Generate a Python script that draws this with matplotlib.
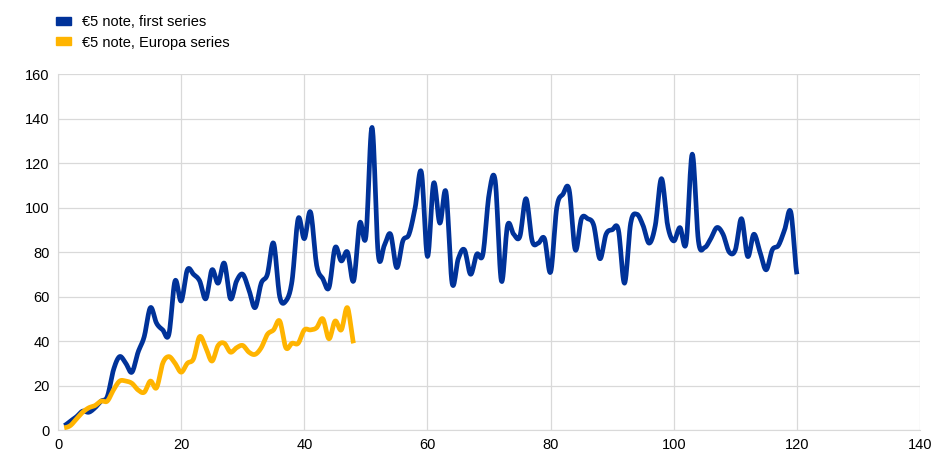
import numpy as np
import matplotlib.pyplot as plt
from matplotlib.patches import Patch

plt.rcParams['font.family'] = ['Liberation Sans', 'DejaVu Sans']

first_series = [2, 4, 6, 8.5, 8, 10, 13, 15, 27, 33,
                30, 26, 35, 42, 55, 48, 45, 43, 67, 58,
                72, 70, 67, 59, 72, 66, 75, 59, 67, 70,
                63, 55, 66, 70, 84, 60, 58, 67, 95, 86,
                98, 74, 68, 64, 82, 76, 80, 67, 93, 87,
                136, 79, 83, 88, 73, 85, 88, 100, 116, 78,
                111, 93, 107, 66, 77, 81, 70, 79, 79, 106,
                112, 67, 92, 88, 87, 104, 85, 84, 86, 71,
                100, 106, 108, 81, 95, 95, 92, 77, 88, 90,
                90, 66, 93, 97, 92, 84, 92, 113, 92, 85,
                91, 84, 124, 85, 82, 86, 91, 88, 80, 81,
                95, 78, 88, 80, 72, 81, 83, 90, 98, 70]
europa_series = [1, 2, 5, 8, 10, 11, 13, 13, 18, 22,
                 22, 21, 18, 17, 22, 19, 30, 33, 30, 26,
                 30, 32, 42, 37, 31, 38, 39, 35, 37, 38,
                 35, 34, 37, 43, 45, 49, 37, 39, 39, 45,
                 45, 46, 50, 41, 49, 45, 55, 39]
labels = ['€5 note, first series', '€5 note, Europa series']
colors = ['#003299', '#FFB400']


def smooth(y, n=12):
    # Catmull-Rom style smoothing like the "smoothed line" option
    y = np.asarray(y, dtype=float)
    x = np.arange(1, len(y) + 1, dtype=float)
    p = np.concatenate([[y[0]], y, [y[-1]]])
    xs, ys = [], []
    for i in range(len(y) - 1):
        p0, p1, p2, p3 = p[i], p[i + 1], p[i + 2], p[i + 3]
        t = np.linspace(0, 1, n, endpoint=False)
        c = 0.5 * ((2 * p1) + (-p0 + p2) * t + (2 * p0 - 5 * p1 + 4 * p2 - p3) * t ** 2
                   + (-p0 + 3 * p1 - 3 * p2 + p3) * t ** 3)
        xs.extend(x[i] + t)
        ys.extend(c)
    xs.append(x[-1])
    ys.append(y[-1])
    return np.array(xs), np.array(ys)


fig = plt.figure(figsize=(9.36, 4.57), dpi=100)
ax = fig.add_axes([0.062, 0.059, 0.921, 0.779])

for data, col in zip([first_series, europa_series], colors):
    xs, ys = smooth(data)
    ax.plot(xs, ys, color=col, lw=3.4, solid_capstyle='butt', zorder=3)

ax.set_xlim(0, 140)
ax.set_ylim(0, 160)
ax.set_xticks(range(0, 141, 20))
ax.set_yticks(range(0, 161, 20))
ax.grid(True, color='#d9d9d9', lw=0.9)
ax.set_axisbelow(True)
for s in ['top', 'right']:
    ax.spines[s].set_visible(False)
for s in ['left', 'bottom']:
    ax.spines[s].set_color('#d9d9d9')
ax.tick_params(length=0, labelsize=10.5, colors='black', pad=6)

handles = [Patch(color=c) for c in colors]
fig.legend(handles, labels, loc='upper left', bbox_to_anchor=(0.046, 0.995),
           frameon=False, fontsize=10.5, handlelength=1.05, handleheight=0.45,
           handletextpad=0.75, labelspacing=0.42)

fig.savefig('out.png', dpi=100)
